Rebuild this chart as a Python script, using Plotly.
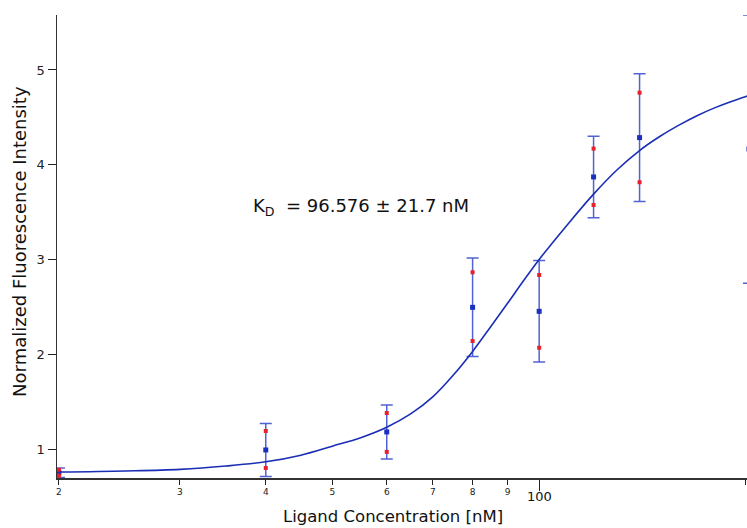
import plotly.graph_objects as go

# Measured data
conc = [20, 40, 60, 80, 100, 120, 140]
mean_vals = [0.75, 0.99, 1.18, 2.495, 2.453, 3.871, 4.286]
err_vals = [0.05, 0.28, 0.285, 0.52, 0.536, 0.43, 0.675]
rep1 = [0.78, 1.19, 1.38, 2.865, 2.836, 4.17, 4.76]
rep2 = [0.72, 0.80, 0.97, 2.14, 2.069, 3.575, 3.815]

# partially visible point at the right edge
edge_conc = [202]
edge_mean = [4.165]
edge_err = [1.415]

# fit curve
fit_conc = [20, 25, 30, 35, 40, 45, 50, 55, 60, 65, 70, 75, 80, 85, 90, 95, 100,
            110, 120, 130, 140, 150, 160, 170, 180, 190, 200, 202]
fit_vals = [0.757, 0.768, 0.785, 0.82, 0.865, 0.935, 1.03, 1.12, 1.23, 1.37, 1.55, 1.78,
            2.03, 2.29, 2.54, 2.78, 3.00, 3.37, 3.69, 3.95, 4.15, 4.30, 4.42, 4.52,
            4.60, 4.665, 4.72, 4.73]

x_tickvals = [20, 30, 40, 50, 60, 70, 80, 90, 200]
x_ticktext = ["2", "3", "4", "5", "6", "7", "8", "9", "2"]
y_tickvals = [1, 2, 3, 4, 5]

FONT = "DejaVu Sans"
ERR_COLOR = "rgba(50,70,205,0.85)"

fig = go.Figure()

fig.add_trace(go.Scatter(
    x=edge_conc, y=edge_mean, mode="markers",
    marker=dict(color="#1a30c0", size=5, symbol="square"),
    error_y=dict(type="data", array=edge_err, color=ERR_COLOR, thickness=1.5, width=6),
    showlegend=False, cliponaxis=True))

fig.add_trace(go.Scatter(
    x=conc, y=mean_vals, mode="markers",
    marker=dict(color="#1a30c0", size=5, symbol="square"),
    error_y=dict(type="data", array=err_vals, color=ERR_COLOR, thickness=1.5, width=6),
    showlegend=False))

fig.add_trace(go.Scatter(
    x=conc + conc, y=rep1 + rep2, mode="markers",
    marker=dict(color="#e82028", size=4, symbol="square"),
    showlegend=False))

fig.add_trace(go.Scatter(
    x=fit_conc, y=fit_vals, mode="lines",
    line=dict(color="#1a2db5", width=1.6, shape="spline", smoothing=1.0),
    showlegend=False))

fig.update_layout(
    width=747, height=528,
    margin=dict(l=57, r=0, t=15, b=50, autoexpand=False),
    paper_bgcolor="white", plot_bgcolor="white",
    font=dict(family=FONT, color="#111"),
    hovermode=False,
    xaxis=dict(
        type="log", range=[1.2982, 2.3025], automargin=False,
        tickmode="array", tickvals=x_tickvals, ticktext=x_ticktext,
        ticks="outside", ticklen=5, tickwidth=1, tickcolor="#222",
        tickfont=dict(size=9, family=FONT, color="#222"),
        showline=True, linecolor="#333", linewidth=1.5,
        showgrid=False, zeroline=False,
        minor=dict(tickvals=[100], ticks="outside", ticklen=11, tickwidth=1.2, tickcolor="#222"),
    ),
    yaxis=dict(
        range=[0.694, 5.58], automargin=False,
        tickmode="array", tickvals=y_tickvals,
        ticks="outside", ticklen=8, tickwidth=1, tickcolor="#222",
        tickfont=dict(size=13, family=FONT, color="#222"),
        showline=True, linecolor="#333", linewidth=1.5,
        showgrid=False, zeroline=False,
    ),
    annotations=[
        dict(text="100", x=2, xref="x", y=-0.041, yref="paper",
             xanchor="center", yanchor="middle", showarrow=False,
             font=dict(size=13, family=FONT, color="#111")),
        dict(text="Ligand Concentration [nM]", x=0.487, xref="paper", y=-0.084, yref="paper",
             xanchor="center", yanchor="middle", showarrow=False,
             font=dict(size=16.5, family=FONT, color="#111")),
        dict(text="Normalized Fluorescence Intensity", x=-0.0536, xref="paper", y=0.51, yref="paper",
             xanchor="center", yanchor="middle", showarrow=False, textangle=-90,
             font=dict(size=18, family=FONT, color="#111")),
        dict(text="K<sub>D</sub>  = 96.576 ± 21.7 nM", x=1.5803, xref="x", y=3.55, yref="y",
             xanchor="left", yanchor="middle", showarrow=False,
             font=dict(size=18, family=FONT, color="#111")),
    ],
)

fig.write_html("out.html", config={"displayModeBar": False, "staticPlot": True},
               post_script="document.body.style.margin='0';document.body.style.overflow='hidden';")
